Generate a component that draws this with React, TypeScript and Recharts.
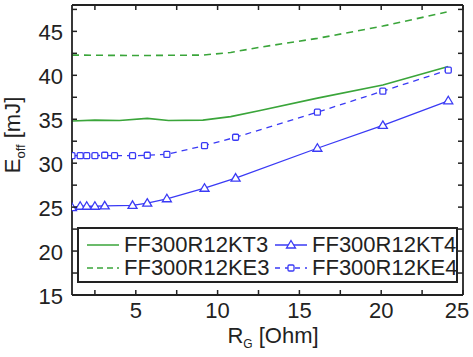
import React from "react";
import { LineChart, Line, XAxis, YAxis } from "recharts";

// ---- data ----
const kt3X = [1.1, 2.5, 4, 5.7, 7, 9.1, 10.8, 12.6, 16.1, 20.1, 24.1];
const kt3Y = [34.8, 34.9, 34.85, 35.1, 34.85, 34.9, 35.3, 36.0, 37.4, 38.9, 41.0];

const ke3X = [1.1, 5, 9.1, 10.8, 12.6, 16.1, 20.1, 24.0];
const ke3Y = [42.3, 42.25, 42.3, 42.6, 43.2, 44.2, 45.6, 47.2];

const kt4X = [1.1, 1.6, 2.0, 2.5, 3.1, 4.8, 5.7, 6.9, 9.2, 11.1, 16.1, 20.1, 24.1];
const kt4Y = [24.95, 25.1, 25.1, 25.1, 25.15, 25.2, 25.45, 25.95, 27.15, 28.3, 31.7, 34.3, 37.1];

const ke4X = [1.1, 1.6, 2.0, 2.5, 3.1, 3.7, 4.8, 5.7, 6.9, 9.2, 11.1, 16.1, 20.1, 24.1];
const ke4Y = [30.85, 30.85, 30.85, 30.85, 30.9, 30.85, 30.85, 30.9, 31.0, 32.0, 32.95, 35.8, 38.2, 40.6];

const seriesNames = ["FF300R12KT3", "FF300R12KE3", "FF300R12KT4", "FF300R12KE4"];

const xTicks = [2.5, 5, 7.5, 10, 12.5, 15, 17.5, 20, 22.5, 25];
const xLabeled = [5, 10, 15, 20, 25];
const yTicks = [15, 17.5, 20, 22.5, 25, 27.5, 30, 32.5, 35, 37.5, 40, 42.5, 45, 47.5];
const yLabeled = [15, 20, 25, 30, 35, 40, 45];

const xDomain = [1.1, 25];
const yDomain = [15, 48];

const zip = (xs: number[], ys: number[]) => xs.map((x, i) => ({ x, y: ys[i] }));
const kt3 = zip(kt3X, kt3Y);
const ke3 = zip(ke3X, ke3Y);
const kt4 = zip(kt4X, kt4Y);
const ke4 = zip(ke4X, ke4Y);

// ---- style ----
const GREEN = "#3aa53a";
const BLUE = "#3a3af5";
const INK = "#222";
const FONT = "'Liberation Sans', Arial, Helvetica, sans-serif";
const FS = 22;
const TICK_LEN = 5;

const W = 473;
const H = 357;

const BottomTick = (p: any) => {
  const v = p.payload.value;
  const isLast = v === xTicks[xTicks.length - 1];
  return (
    <g>
      <line x1={p.x} x2={p.x} y1={p.y} y2={p.y - TICK_LEN} stroke={INK} strokeWidth={1.5} />
      {xLabeled.includes(v) && (
        <text
          x={p.x}
          dx={isLast ? -6 : 0}
          y={p.y + 22.5}
          textAnchor="middle"
          fontSize={FS}
          fontFamily={FONT}
          fill={INK}
        >
          {v}
        </text>
      )}
    </g>
  );
};
const TopTick = (p: any) => (
  <line x1={p.x} x2={p.x} y1={p.y} y2={p.y + TICK_LEN} stroke={INK} strokeWidth={1.5} />
);
const LeftTick = (p: any) => {
  const v = p.payload.value;
  return (
    <g>
      <line x1={p.x} x2={p.x + TICK_LEN} y1={p.y} y2={p.y} stroke={INK} strokeWidth={1.5} />
      {yLabeled.includes(v) && (
        <text x={p.x - 9} y={p.y + 8.5} textAnchor="end" fontSize={FS} fontFamily={FONT} fill={INK}>
          {v}
        </text>
      )}
    </g>
  );
};
const RightTick = (p: any) => (
  <line x1={p.x} x2={p.x - TICK_LEN} y1={p.y} y2={p.y} stroke={INK} strokeWidth={1.5} />
);

const Triangle = ({ cx, cy, color }: any) => (
  <path
    d={`M${cx},${cy - 4.5} L${cx + 4.5},${cy + 3} L${cx - 4.5},${cy + 3} Z`}
    fill="#fff"
    stroke={color}
    strokeWidth={1.3}
  />
);
const Square = ({ cx, cy, color }: any) => (
  <rect x={cx - 3} y={cy - 3} width={6} height={6} rx={1.2} fill="#fff" stroke={color} strokeWidth={1.3} />
);

const triDot = (p: any) => <Triangle key={`t${p.index}`} cx={p.cx} cy={p.cy} color={BLUE} />;
const sqDot = (p: any) => <Square key={`s${p.index}`} cx={p.cx} cy={p.cy} color={BLUE} />;

const legendItems = [
  { name: seriesNames[0], color: GREEN, dash: undefined as string | undefined, marker: null as string | null, left: 87, top: 233.8 },
  { name: seriesNames[1], color: GREEN, dash: "6 4", marker: null, left: 87, top: 257.3 },
  { name: seriesNames[2], color: BLUE, dash: undefined, marker: "tri", left: 275, top: 233.8 },
  { name: seriesNames[3], color: BLUE, dash: "5 5", marker: "sq", left: 275, top: 257.3 },
];

const LegendSample = ({ item }: any) => (
  <svg width={32} height={22} style={{ position: "absolute", left: 0, top: 0 }}>
    <line
      x1={0}
      x2={32}
      y1={11}
      y2={11}
      stroke={item.color}
      strokeWidth={1.5}
      strokeDasharray={item.dash}
    />
    {item.marker === "tri" && <Triangle cx={16} cy={11} color={item.color} />}
    {item.marker === "sq" && <Square cx={16} cy={11} color={item.color} />}
  </svg>
);

export default function App() {
  return (
    <div style={{ position: "absolute", left: 0, top: 0, width: W, height: H, background: "#fff" }}>
      <LineChart width={W} height={H} margin={{ top: 0, right: 0, bottom: 0, left: 0 }}>
        <XAxis
          xAxisId="b"
          type="number"
          dataKey="x"
          domain={xDomain}
          ticks={xTicks}
          interval={0}
          height={62}
          tickSize={0}
          tickMargin={0}
          tick={BottomTick}
          axisLine={{ stroke: INK, strokeWidth: 1.8 }}
          allowDataOverflow
        />
        <XAxis
          xAxisId="t"
          orientation="top"
          type="number"
          dataKey="x"
          domain={xDomain}
          ticks={xTicks}
          interval={0}
          height={5}
          tickSize={0}
          tickMargin={0}
          tick={TopTick}
          axisLine={{ stroke: INK, strokeWidth: 1.8 }}
          allowDataOverflow
        />
        <YAxis
          yAxisId="l"
          type="number"
          domain={yDomain}
          ticks={yTicks}
          interval={0}
          width={72}
          tickSize={0}
          tickMargin={0}
          tick={LeftTick}
          axisLine={{ stroke: INK, strokeWidth: 1.8 }}
          allowDataOverflow
        />
        <YAxis
          yAxisId="r"
          orientation="right"
          type="number"
          domain={yDomain}
          ticks={yTicks}
          interval={0}
          width={10}
          tickSize={0}
          tickMargin={0}
          tick={RightTick}
          axisLine={{ stroke: INK, strokeWidth: 1.8 }}
          allowDataOverflow
        />
        <Line xAxisId="t" yAxisId="r" data={kt3} dataKey="y" stroke="none" dot={false} activeDot={false} isAnimationActive={false} legendType="none" />
        <Line xAxisId="b" yAxisId="l" data={ke3} dataKey="y" name={seriesNames[1]} stroke={GREEN} strokeWidth={1.6} strokeDasharray="7 5" dot={false} activeDot={false} isAnimationActive={false} />
        <Line xAxisId="b" yAxisId="l" data={kt3} dataKey="y" name={seriesNames[0]} stroke={GREEN} strokeWidth={1.6} dot={false} activeDot={false} isAnimationActive={false} />
        <Line xAxisId="b" yAxisId="l" data={ke4} dataKey="y" name={seriesNames[3]} stroke={BLUE} strokeWidth={1.3} strokeDasharray="6 5" dot={sqDot} activeDot={false} isAnimationActive={false} />
        <Line xAxisId="b" yAxisId="l" data={kt4} dataKey="y" name={seriesNames[2]} stroke={BLUE} strokeWidth={1.3} dot={triDot} activeDot={false} isAnimationActive={false} />
        <text x={273} y={343} textAnchor="middle" fontSize={FS} fontFamily={FONT} fill={INK}>
          R<tspan fontSize={12} dy={5}>G</tspan>
          <tspan dy={-5}>{"\u00A0[Ohm]"}</tspan>
        </text>
        <text
          x={20}
          y={135}
          transform="rotate(-90 20 135)"
          textAnchor="middle"
          fontSize={FS}
          fontFamily={FONT}
          fill={INK}
        >
          E<tspan fontSize={13} dy={5}>off</tspan>
          <tspan dy={-5}>{"\u00A0[mJ]"}</tspan>
        </text>
      </LineChart>
      <div
        style={{
          position: "absolute",
          left: 77,
          top: 227,
          width: 381,
          height: 56,
          boxSizing: "border-box",
          border: `2px solid ${INK}`,
          background: "#fff",
        }}
      />
      {legendItems.map((it) => (
        <div
          key={it.name}
          style={{
            position: "absolute",
            left: it.left,
            top: it.top,
            height: 22,
            width: 180,
            fontFamily: FONT,
            fontSize: FS,
            lineHeight: "22px",
            color: INK,
            whiteSpace: "nowrap",
          }}
        >
          <LegendSample item={it} />
          <span style={{ position: "absolute", left: 37, top: 0 }}>{it.name}</span>
        </div>
      ))}
    </div>
  );
}
